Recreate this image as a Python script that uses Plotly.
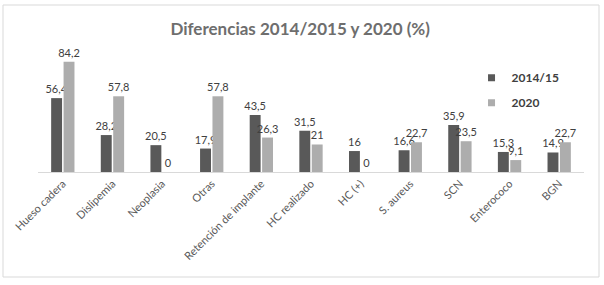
import plotly.graph_objects as go

categories = ["Hueso cadera", "Dislipemia", "Neoplasia", "Otras", "Retención de implante",
              "HC realizado", "HC (+)", "S. aureus", "SCN", "Enterococo", "BGN"]
vals_2014 = [56.4, 28.2, 20.5, 17.9, 43.5, 31.5, 16, 16.6, 35.9, 15.3, 14.9]
vals_2020 = [84.2, 57.8, 0, 57.8, 26.3, 21, 0, 22.7, 23.5, 9.1, 22.7]
series_names = ["2014/15", "2020"]
colors = ["#595959", "#adadad"]

def fmt(v):
    s = ("%g" % v)
    return s.replace(".", ",")

FONT = "Lato, 'Open Sans', sans-serif"

fig = go.Figure()
for name, vals, col in zip(series_names, [vals_2014, vals_2020], colors):
    fig.add_trace(go.Bar(
        x=categories, y=vals, name=name, marker_color=col, marker_line_width=0,
        text=[fmt(v) for v in vals], textposition="outside", constraintext="none",
        textfont=dict(family=FONT, size=11, color="#404040"),
        cliponaxis=False, showlegend=False,
    ))
# legend entries with small square symbols
for i, (name, col) in enumerate(zip(series_names, colors)):
    fig.add_trace(go.Scatter(
        x=[None], y=[None], mode="markers", name=name, legendgroup=name,
        marker=dict(symbol="square", size=7, color=col),
    ))

fig.update_layout(
    width=604, height=285,
    margin=dict(l=38, r=20, t=41, b=113),
    paper_bgcolor="white", plot_bgcolor="white",
    barmode="group", bargap=0.5, bargroupgap=0.12,
    title=dict(text="<b>Diferencias 2014/2015 y 2020 (%)</b>", x=0.497, xanchor="center",
               xref="container", yref="container", y=1 - 29 / 285, yanchor="middle",
               font=dict(family=FONT, size=17, color="#6e6e6e")),
    font=dict(family=FONT, color="#595959"),
    legend=dict(x=0.794, y=0.83, xanchor="left", yanchor="top",
                font=dict(family=FONT, size=12, color="#404040", weight="bold"),
                traceorder="grouped", tracegroupgap=6,
                bgcolor="rgba(0,0,0,0)", itemwidth=30),
    xaxis=dict(tickangle=-45, showline=True, linecolor="#d9d9d9", linewidth=1,
               ticks="", tickfont=dict(family=FONT, size=11, color="#595959"),
               showgrid=False, zeroline=False),
    yaxis=dict(range=[0, 100], visible=False, showgrid=False, zeroline=False),
    shapes=[dict(type="rect", xref="paper", yref="paper",
                 x0=(3 - 38) / 546, x1=(599 - 38) / 546,
                 y0=(172 - 277) / 131, y1=(172 - 5) / 131,
                 line=dict(color="#d9d9d9", width=1), fillcolor="rgba(0,0,0,0)", layer="below")],
)

fig.write_html("out.html", config={"displayModeBar": False},
               post_script="document.body.style.margin='0';")
